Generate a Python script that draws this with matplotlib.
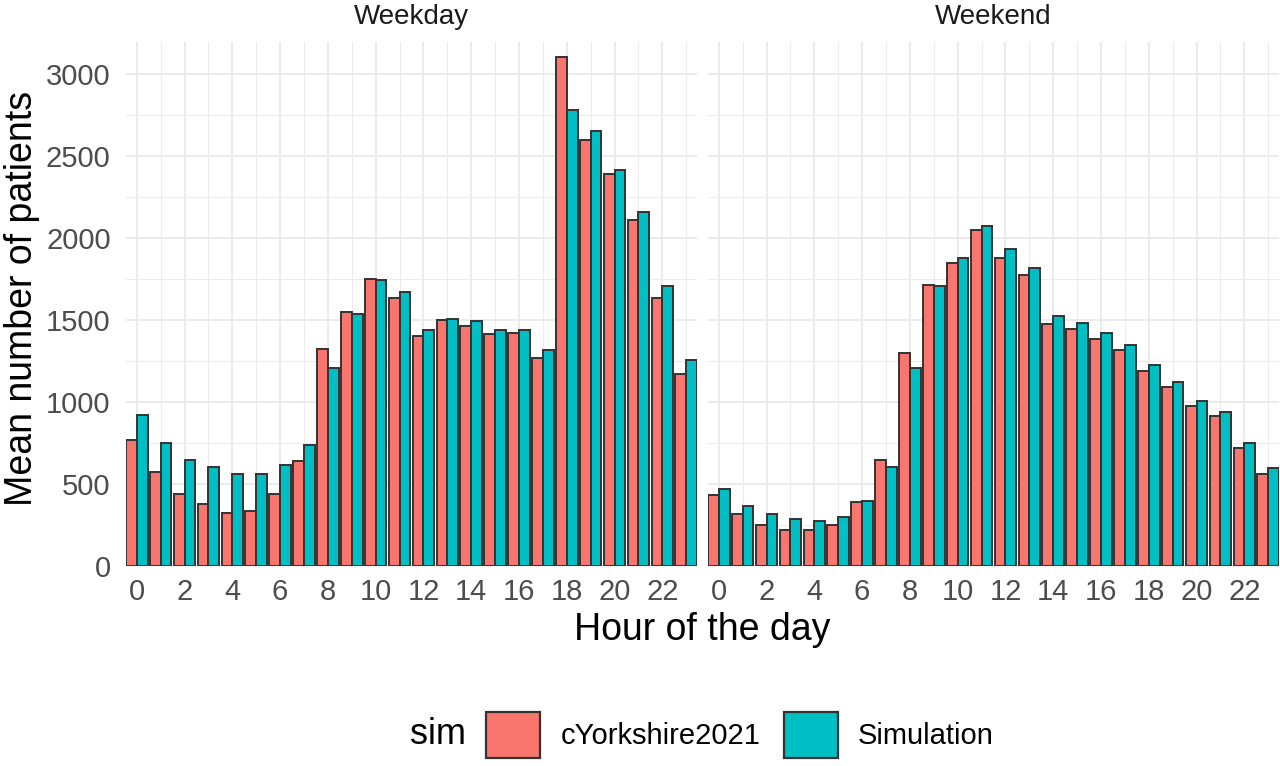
import numpy as np
import matplotlib.pyplot as plt
from matplotlib.patches import Patch
from matplotlib.ticker import MultipleLocator

plt.rcParams['font.family'] = ['Liberation Sans', 'DejaVu Sans']

# mean number of patients per hour
hours = np.arange(24)
weekday_obs = [768, 575, 436, 379, 322, 337, 442, 642, 1326, 1551, 1751, 1634,
               1400, 1499, 1463, 1417, 1421, 1269, 3105, 2600, 2389, 2111, 1636, 1168]
weekday_sim = [920, 747, 648, 606, 564, 564, 617, 737, 1210, 1539, 1743, 1669,
               1442, 1507, 1495, 1442, 1442, 1320, 2779, 2652, 2414, 2158, 1705, 1259]
weekend_obs = [433, 316, 249, 218, 218, 249, 388, 645, 1299, 1714, 1850, 2048,
               1881, 1773, 1477, 1446, 1387, 1320, 1191, 1089, 977, 912, 718, 561]
weekend_sim = [467, 367, 316, 286, 273, 296, 396, 604, 1208, 1705, 1875, 2075,
               1932, 1816, 1524, 1479, 1418, 1350, 1224, 1122, 1004, 936, 749, 596]
panels = ['Weekday', 'Weekend']
series = ['cYorkshire2021', 'Simulation']
colors = ['#F8766D', '#00BFC4']

edge = '#333333'
grid_col = '#EBEBEB'

fig = plt.figure(figsize=(12.8, 7.66), dpi=100)
W, H = 1280, 766
axl = fig.add_axes([126 / W, (H - 566) / H, 571 / W, 524 / H])
axr = fig.add_axes([708 / W, (H - 566) / H, 571 / W, 524 / H])

data = [(weekday_obs, weekday_sim), (weekend_obs, weekend_sim)]
bw = 0.45
for ax, title, (obs, sim) in zip([axl, axr], panels, data):
    ax.bar(hours - bw / 2, obs, width=bw, color=colors[0], edgecolor=edge, linewidth=1.4, zorder=3)
    ax.bar(hours + bw / 2, sim, width=bw, color=colors[1], edgecolor=edge, linewidth=1.4, zorder=3)
    ax.set_xlim(-0.45, 23.45)
    ax.set_ylim(0, 3195)
    ax.xaxis.set_major_locator(MultipleLocator(2))
    ax.xaxis.set_minor_locator(MultipleLocator(1))
    ax.yaxis.set_major_locator(MultipleLocator(500))
    ax.yaxis.set_minor_locator(MultipleLocator(250))
    ax.grid(which='major', color=grid_col, linewidth=1.5, zorder=0)
    ax.grid(which='minor', color=grid_col, linewidth=0.75, zorder=0)
    ax.set_axisbelow(True)
    for s in ax.spines.values():
        s.set_visible(False)
    ax.tick_params(which='both', length=0)
    ax.tick_params(axis='x', labelsize=21, labelcolor='#4D4D4D', pad=9)
    ax.tick_params(axis='y', labelsize=21, labelcolor='#4D4D4D', pad=11)
    ax.set_title(title, fontsize=20, color='#1A1A1A', pad=13)

axr.tick_params(axis='y', labelleft=False)
fig.text(22 / W, 1 - 298 / H, 'Mean number of patients', fontsize=27,
         rotation=90, ha='center', va='center')
fig.text(0.5 * (126 + 1279) / W, 1 - 630 / H, 'Hour of the day', fontsize=27,
         ha='center', va='center')

# legend along the bottom, title on the left
handles = [Patch(facecolor=c, edgecolor=edge, linewidth=1.6) for c in colors]
fig.legend(handles, series, loc='center left', bbox_to_anchor=(486 / W, 1 - 735 / H),
           ncol=2, frameon=False, fontsize=21, borderpad=0, borderaxespad=0,
           handlelength=1.85, handleheight=2.0, handletextpad=0.7, columnspacing=0.8)
fig.text(466 / W, 1 - 735 / H, 'sim', fontsize=26, ha='right', va='center')

fig.savefig('out.png', dpi=100)
